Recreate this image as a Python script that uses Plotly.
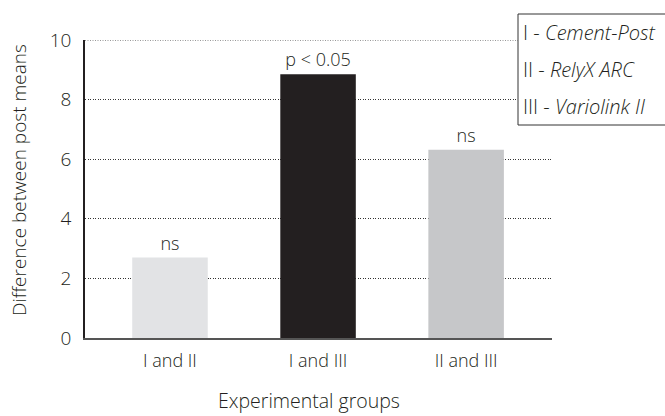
import plotly.graph_objects as go

categories = ["I and II", "I and III", "II and III"]
values = [2.7, 8.85, 6.32]
bar_labels = ["ns", "p < 0.05", "ns"]
bar_colors = ["#e2e3e5", "#231f20", "#c6c7c9"]
legend_lines = ["I - <i>Cement-Post</i>", "II - <i>RelyX ARC</i>", "III - <i>Variolink II</i>"]
y_ticks = [0, 2, 4, 6, 8, 10]

W, H = 665, 416
L, R, T, B = 85, 113, 40, 78
pw, ph = W - L - R, H - T - B

def px_x(x):
    return (x - L) / pw

def px_y(y):
    return (H - B - y) / ph

FONT = "Open Sans"
TXT = "#231f20"

def f(size):
    return dict(family=FONT, size=size, color=TXT, weight=300)

fig = go.Figure(go.Bar(
    x=categories, y=values, marker_color=bar_colors, marker_line_width=0,
    width=0.51, text=bar_labels, textposition="outside", cliponaxis=False,
    textfont=f(18),
))

fig.update_layout(
    width=W, height=H, margin=dict(l=L, r=R, t=T, b=B),
    plot_bgcolor="white", paper_bgcolor="white", showlegend=False,
    font=f(18),
)
fig.update_xaxes(
    range=[-0.574, 2.58], showline=True, linecolor="#555555", linewidth=2,
    showgrid=False, ticks="outside", ticklen=5, tickcolor="rgba(0,0,0,0)",
    tickfont=f(18),
)
fig.update_yaxes(
    range=[0, 10], tickvals=y_ticks, showline=True, linecolor="#231f20", linewidth=1.5,
    showgrid=True, gridcolor="#333333", griddash="1px,1.5px", gridwidth=1,
    zeroline=False, ticks="outside", ticklen=8, tickcolor="rgba(0,0,0,0)",
    tickfont=f(19),
)

# top gridline (plotly omits the one on the plot edge)
fig.add_shape(type="line", xref="paper", yref="y", x0=0, x1=1,
              y0=y_ticks[-1], y1=y_ticks[-1],
              line=dict(color="#333333", width=1, dash="1px,1.5px"), layer="below")

# axis titles
fig.add_annotation(xref="paper", yref="paper", x=px_x(309), y=px_y(400),
                   text="Experimental groups", showarrow=False,
                   xanchor="center", yanchor="middle", font=f(19.5))
fig.add_annotation(xref="paper", yref="paper", x=px_x(19), y=px_y(180),
                   text="Difference between post means", showarrow=False, textangle=-90,
                   xanchor="center", yanchor="middle", font=f(19))

# legend box
fig.add_shape(type="rect", xref="paper", yref="paper",
              x0=px_x(518), x1=px_x(720), y0=px_y(125), y1=px_y(14),
              line=dict(color="#333333", width=1), fillcolor="white", layer="above")
for i, t in enumerate(legend_lines):
    fig.add_annotation(xref="paper", yref="paper", x=px_x(521), y=px_y(32 + 37.5 * i),
                       text=t, showarrow=False, xanchor="left", yanchor="middle",
                       font=f(20))

fig.write_html("out.html", config={"displayModeBar": False},
               post_script="document.body.style.margin='0';document.body.style.overflow='hidden';")
